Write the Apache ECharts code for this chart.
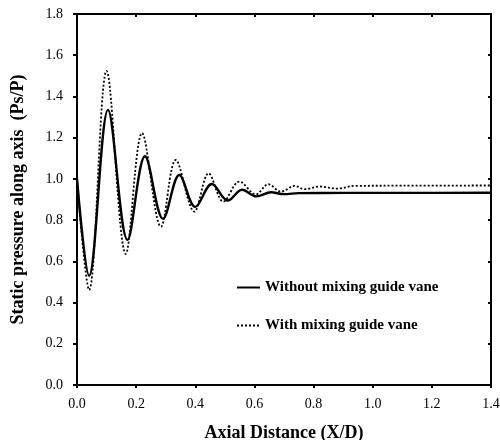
<!DOCTYPE html>
<html>
<head>
<meta charset="utf-8">
<script src="https://cdn.jsdelivr.net/npm/echarts@6/dist/echarts.min.js"></script>
<style>html,body{margin:0;padding:0;background:#fff}#c{width:500px;height:440px}</style>
</head>
<body>
<div id="c"></div>
<script>
// Data
var seriesNames = ['Without mixing guide vane', 'With mixing guide vane'];
var xWithout = [0, 0.041, 0.105, 0.171, 0.230, 0.291, 0.346, 0.400, 0.456, 0.510, 0.558, 0.607, 0.656, 0.700, 0.750, 0.900, 1.100, 1.400];
var yWithout = [1.0, 0.53, 1.335, 0.704, 1.11, 0.806, 1.019, 0.864, 0.975, 0.895, 0.947, 0.915, 0.935, 0.926, 0.931, 0.932, 0.932, 0.933];
var xWith = [0, 0.041, 0.100, 0.165, 0.220, 0.284, 0.334, 0.397, 0.445, 0.495, 0.549, 0.605, 0.647, 0.690, 0.736, 0.770, 0.820, 0.880, 0.940, 1.100, 1.400];
var yWith = [1.0, 0.461, 1.524, 0.636, 1.222, 0.768, 1.092, 0.841, 1.027, 0.89, 0.987, 0.925, 0.974, 0.938, 0.966, 0.95, 0.963, 0.953, 0.966, 0.967, 0.968];
var xTicks = [0, 0.2, 0.4, 0.6, 0.8, 1.0, 1.2, 1.4];
var yTicks = [0, 0.2, 0.4, 0.6, 0.8, 1.0, 1.2, 1.4, 1.6, 1.8];

function zip(xs, ys) { return xs.map(function (x, i) { return [x, ys[i]]; }); }

var serif = 'Liberation Serif';
var chart = echarts.init(document.getElementById('c'), null, { renderer: 'canvas' });
var axisLine = { show: true, onZero: false, lineStyle: { color: '#000', width: 2 } };
chart.setOption({
  animation: false,
  backgroundColor: '#fff',
  grid: { left: 77, right: 9, top: 14, bottom: 55, containLabel: false, outerBoundsMode: 'none' },
  legend: {
    orient: 'vertical',
    left: 231,
    top: 275,
    itemWidth: 23,
    itemHeight: 10,
    itemGap: 23,
    itemStyle: { opacity: 0 },
    textStyle: { fontFamily: serif, fontWeight: 'bold', fontSize: 15, color: '#000' },
    data: seriesNames
  },
  xAxis: [{
    type: 'value', min: xTicks[0], max: xTicks[xTicks.length - 1], interval: 0.2, position: 'bottom',
    axisLine: axisLine,
    axisTick: { show: true, inside: false, length: 3, lineStyle: { color: '#000', width: 2 } },
    splitLine: { show: false },
    axisLabel: { margin: 12, fontFamily: serif, fontSize: 14, color: '#000', formatter: function (v) { return v.toFixed(1); } },
    name: 'Axial Distance (X/D)', nameLocation: 'middle', nameGap: 39,
    nameTextStyle: { fontFamily: serif, fontWeight: 'bold', fontSize: 18, color: '#000' }
  }, {
    type: 'value', min: xTicks[0], max: xTicks[xTicks.length - 1], interval: 0.2, position: 'top',
    axisLine: axisLine,
    axisTick: { show: true, inside: true, length: 3, lineStyle: { color: '#000', width: 2 } },
    axisLabel: { show: false }, splitLine: { show: false }
  }],
  yAxis: [{
    type: 'value', min: yTicks[0], max: yTicks[yTicks.length - 1], interval: 0.2, position: 'left',
    axisLine: axisLine,
    axisTick: { show: true, inside: false, length: 4, lineStyle: { color: '#000', width: 2 } },
    splitLine: { show: false },
    axisLabel: { margin: 14, fontFamily: serif, fontSize: 14, color: '#000', formatter: function (v) { return v.toFixed(1); } },
    name: 'Static pressure along axis  (Ps/P)', nameLocation: 'middle', nameGap: 50,
    nameTextStyle: { fontFamily: serif, fontWeight: 'bold', fontSize: 18, color: '#000' }
  }, {
    type: 'value', min: yTicks[0], max: yTicks[yTicks.length - 1], interval: 0.2, position: 'right',
    axisLine: axisLine,
    axisTick: { show: true, inside: true, length: 3, lineStyle: { color: '#000', width: 2 } },
    axisLabel: { show: false }, splitLine: { show: false }
  }],
  series: [{
    name: seriesNames[0], type: 'line', smooth: 0.35, symbol: 'none',
    xAxisIndex: 0, yAxisIndex: 0,
    lineStyle: { color: '#000', width: 2.4, type: 'solid' },
    itemStyle: { color: '#000' },
    data: zip(xWithout, yWithout)
  }, {
    name: seriesNames[1], type: 'line', smooth: 0.35, symbol: 'none',
    xAxisIndex: 0, yAxisIndex: 0,
    lineStyle: { color: '#000', width: 1.8, type: [2, 2] },
    itemStyle: { color: '#000' },
    data: zip(xWith, yWith)
  }]
});
</script>
</body>
</html>
